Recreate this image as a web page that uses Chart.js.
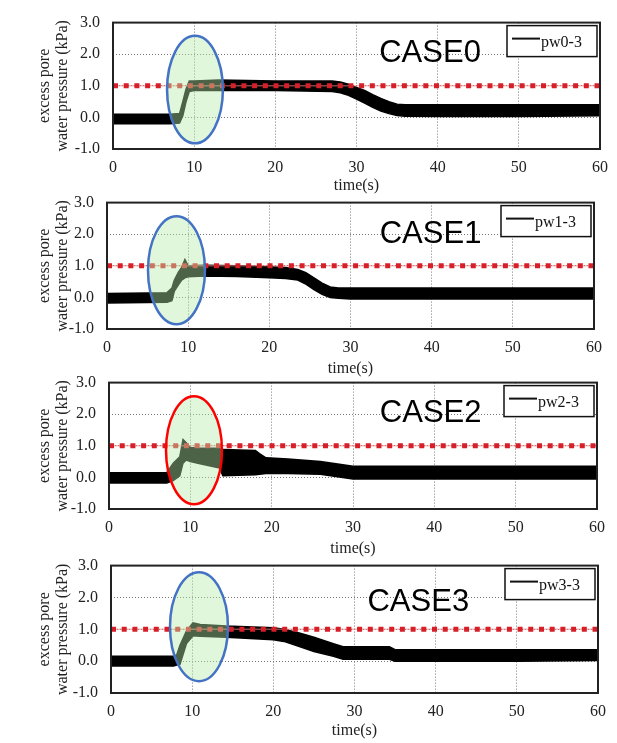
<!DOCTYPE html>
<html>
<head>
<meta charset="utf-8">
<script src="https://cdn.jsdelivr.net/npm/chart.js@4.4.1/dist/chart.umd.min.js"></script>
<style>
    html, body { margin: 0; background: #fff; }
    body { position: relative; width: 617px; height: 743px; overflow: hidden; }
    .panel { position: absolute; left: 0; width: 617px; }
</style>
</head>
<body>
<div class="panel" style="top:0;height:195px"><canvas id="c0"></canvas></div>
<div class="panel" style="top:180px;height:198px"><canvas id="c1"></canvas></div>
<div class="panel" style="top:360px;height:198px"><canvas id="c2"></canvas></div>
<div class="panel" style="top:543px;height:197px"><canvas id="c3"></canvas></div>
<script>
// Data (band of the noisy trace: upper / lower edge)
const caseNames  = ['CASE0', 'CASE1', 'CASE2', 'CASE3'];
const gaugeNames = ['pw0-3', 'pw1-3', 'pw2-3', 'pw3-3'];
const threshold  = 1.0;
const timeRange  = [0, 60];
const pressureRange = [-1, 3];

const time0  = [0, 7, 8.2, 8.6, 9.0, 9.4, 10, 13, 20, 27, 28, 29, 30, 31, 32, 33, 34, 35, 36, 40, 50, 60];
const upper0 = [0.1, 0.1, 0.12, 0.5, 0.9, 1.15, 1.15, 1.18, 1.15, 1.15, 1.12, 1.05, 0.95, 0.85, 0.72, 0.6, 0.5, 0.42, 0.4, 0.4, 0.4, 0.4];
const lower0 = [-0.2, -0.2, -0.18, 0.05, 0.5, 0.82, 0.85, 0.85, 0.85, 0.82, 0.78, 0.7, 0.58, 0.45, 0.32, 0.2, 0.12, 0.06, 0.04, 0.03, 0.03, 0.05];

const time1  = [0, 7.4, 8.0, 8.3, 8.8, 9.2, 9.6, 10, 12, 16, 20, 22, 23.5, 24.5, 25.5, 26.5, 27.5, 28.5, 30, 40, 50, 60];
const upper1 = [0.12, 0.15, 0.3, 0.55, 0.8, 0.95, 1.2, 1.0, 1.02, 1.0, 0.97, 0.95, 0.88, 0.78, 0.62, 0.45, 0.33, 0.3, 0.3, 0.3, 0.3, 0.3];
const lower1 = [-0.18, -0.15, -0.1, 0.2, 0.4, 0.55, 0.62, 0.65, 0.68, 0.66, 0.62, 0.6, 0.55, 0.42, 0.25, 0.1, 0.0, -0.03, -0.05, -0.05, -0.05, -0.05];

const time2  = [0, 7.1, 7.9, 8.7, 9.1, 9.5, 10, 11.2, 13.6, 14, 18, 18.5, 19.3, 22, 26, 30, 40, 50, 60];
const upper2 = [0.15, 0.15, 0.45, 0.65, 1.2, 1.1, 0.95, 0.92, 0.92, 0.88, 0.85, 0.75, 0.62, 0.58, 0.5, 0.35, 0.35, 0.35, 0.35];
const lower2 = [-0.18, -0.18, -0.1, 0.05, 0.45, 0.55, 0.5, 0.43, 0.3, 0.05, 0.08, 0.1, 0.12, 0.12, 0.1, -0.05, -0.05, -0.05, -0.05];

const time3  = [0, 7.7, 8.1, 8.5, 9.3, 10.1, 11, 14.2, 20, 21.3, 23.3, 25, 27.4, 28.6, 34.3, 35, 40, 50, 60];
const upper3 = [0.15, 0.15, 0.2, 0.5, 0.95, 1.2, 1.15, 1.1, 1.05, 1.0, 0.88, 0.75, 0.55, 0.45, 0.45, 0.36, 0.36, 0.36, 0.36];
const lower3 = [-0.15, -0.15, -0.12, -0.1, 0.55, 0.8, 0.78, 0.75, 0.67, 0.62, 0.45, 0.3, 0.15, 0.06, 0.06, 0.0, 0.0, 0.0, 0.02];

const times  = [time0, time1, time2, time3];
const uppers = [upper0, upper1, upper2, upper3];
const lowers = [lower0, lower1, lower2, lower3];

// Layout of each panel (pixels inside its canvas) and the annotations
const panels = [
    { id: 'c0', left: 113, right: 601, top: 17, bottom: 149, height: 195,
      ring: { t: 10.1, v: 0.88, dt: 3.44, dv: 1.70, color: '#4472c4' }, tag: { t: 32.8, v: 2.03 } },
    { id: 'c1', left: 107, right: 594, top: 18, bottom: 149, height: 198,
      ring: { t: 8.56, v: 0.86, dt: 3.51, dv: 1.71, color: '#4472c4' }, tag: { t: 33.6, v: 2.0 } },
    { id: 'c2', left: 109, right: 597, top: 18, bottom: 149, height: 198,
      ring: { t: 10.45, v: 0.86, dt: 3.44, dv: 1.71, color: '#ff0000' }, tag: { t: 33.3, v: 2.02 } },
    { id: 'c3', left: 111, right: 598, top: 18, bottom: 150, height: 197,
      ring: { t: 10.84, v: 1.08, dt: 3.57, dv: 1.71, color: '#4472c4' }, tag: { t: 31.6, v: 1.85 } },
];

const serif = 'Liberation Serif, Times New Roman, serif';
const textColor = '#222';

// ellipse highlight, frame, legend box and case label
const overlay = {
    id: 'overlay',
    afterDatasetsDraw(chart, args, opts) {
        const { ctx, scales: { x, y } } = chart;
        const r = opts.ring;
        const cx = x.getPixelForValue(r.t), cy = y.getPixelForValue(r.v);
        const rx = x.getPixelForValue(r.t + r.dt) - cx;
        const ry = cy - y.getPixelForValue(r.v + r.dv);
        ctx.save();
        ctx.beginPath();
        ctx.ellipse(cx, cy, rx, ry, 0, 0, Math.PI * 2);
        ctx.fillStyle = 'rgba(180,235,170,0.42)';
        ctx.fill();
        ctx.lineWidth = 2.5;
        ctx.strokeStyle = r.color;
        ctx.stroke();
        ctx.restore();
    },
    afterDraw(chart, args, opts) {
        const { ctx, chartArea: a, scales: { x, y } } = chart;
        ctx.save();
        ctx.lineWidth = 2;
        ctx.strokeStyle = '#222';
        ctx.strokeRect(a.left, a.top, a.right - a.left, a.bottom - a.top);

        // legend box
        const w = 90, h = 31;
        const bx = a.right - 3 - w, by = a.top + 3;
        ctx.fillStyle = '#fff';
        ctx.fillRect(bx, by, w, h);
        ctx.lineWidth = 1.5;
        ctx.strokeStyle = '#111';
        ctx.strokeRect(bx, by, w, h);
        ctx.beginPath();
        ctx.moveTo(bx + 5, by + 13);
        ctx.lineTo(bx + 33, by + 13);
        ctx.lineWidth = 2;
        ctx.stroke();
        ctx.fillStyle = '#111';
        ctx.font = '16px ' + serif;
        ctx.textBaseline = 'middle';
        ctx.fillText(chart.data.datasets[0].label, bx + 34, by + 17);

        // case label
        ctx.font = '31px Liberation Sans, Arial, sans-serif';
        ctx.fillStyle = '#000';
        ctx.fillText(opts.name, x.getPixelForValue(opts.tag.t), y.getPixelForValue(opts.tag.v));
        ctx.restore();
    }
};

function makePanel(p, i) {
    const pts = vals => times[i].map((t, k) => ({ x: t, y: vals[k] }));
    const limit = [{ x: timeRange[0], y: threshold }, { x: timeRange[1], y: threshold }];
    new Chart(document.getElementById(p.id), {
        type: 'line',
        data: {
            datasets: [
                { label: gaugeNames[i], data: pts(uppers[i]), borderColor: '#000', borderWidth: 1.5,
                  pointRadius: 0, fill: false, order: 2 },
                { label: 'lower', data: pts(lowers[i]), borderColor: '#000', borderWidth: 1.5,
                  pointRadius: 0, fill: '-1', backgroundColor: '#000', order: 2 },
                { label: 'limit', data: limit, borderColor: '#d71f2a', borderWidth: 5,
                  borderDash: [5, 5.7], pointRadius: 0, order: 0 },
                { label: 'limit-thin', data: limit, borderColor: 'rgba(235,130,120,0.55)', borderWidth: 1.5,
                  pointRadius: 0, order: 1 },
            ]
        },
        options: {
            responsive: true,
            maintainAspectRatio: false,
            animation: false,
            layout: { padding: { top: p.top, right: 617 - p.right, left: 0, bottom: 0 } },
            plugins: {
                legend: { display: false },
                tooltip: { enabled: false },
                overlay: { ring: p.ring, tag: p.tag, name: caseNames[i] },
            },
            scales: {
                x: {
                    type: 'linear', min: timeRange[0], max: timeRange[1],
                    grid: { color: '#777', lineWidth: 1, drawTicks: false },
                    border: { display: false, dash: [1, 2] },
                    ticks: { stepSize: 10, padding: 9, maxRotation: 0, color: textColor, font: { family: serif, size: 16 } },
                    title: { display: true, text: 'time(s)', color: textColor, padding: 0,
                             font: { family: serif, size: 16, lineHeight: 1.2 } },
                    afterFit: s => { s.height = p.height - p.bottom; },
                },
                y: {
                    min: pressureRange[0], max: pressureRange[1],
                    grid: { color: '#777', lineWidth: 1, drawTicks: false },
                    border: { display: false, dash: [1, 2] },
                    ticks: { stepSize: 1, padding: 13, color: textColor, font: { family: serif, size: 16 },
                             callback: v => v.toFixed(1) },
                    title: { display: true, text: ['excess pore', 'water pressure (kPa)'], color: textColor,
                             padding: { top: 36, bottom: 0 }, font: { family: serif, size: 16, lineHeight: 1.1 } },
                    afterFit: s => { s.width = p.left; },
                },
            },
        },
        plugins: [overlay],
    });
}

panels.forEach(makePanel);
</script>
</body>
</html>
